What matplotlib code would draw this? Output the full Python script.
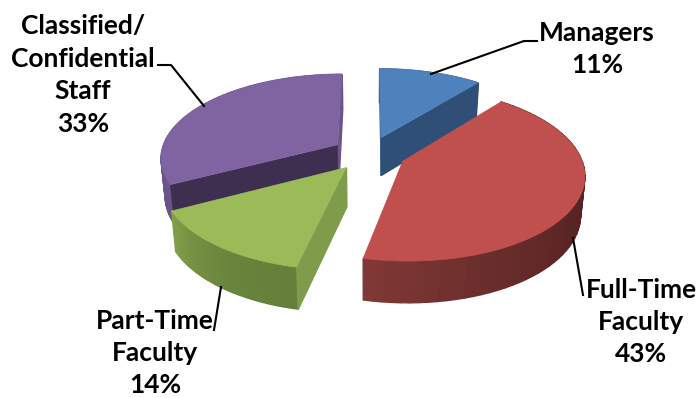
import numpy as np
import matplotlib
matplotlib.use('Agg')
import matplotlib.pyplot as plt
from matplotlib.collections import PolyCollection
from matplotlib.colors import to_rgb
from matplotlib.patches import Polygon

labels = ['Managers', 'Full-Time\nFaculty', 'Part-Time\nFaculty', 'Classified/\nConfidential\nStaff']
values = [11, 43, 14, 33]
top_colors = ['#4f81bd', '#c0504d', '#9bbb59', '#8064a2']
cut_colors = ['#2f4f77', '#4e2120', '#7f9c4b', '#3e2e50']
# rim shading, from the clockwise start of the slice to its end
rim_start = ['#3f6697', '#4a1e1d', '#64803a', '#6b5489']
rim_end = ['#3f6697', '#803836', '#82a04a', '#6b5489']

# camera settings of the pie, in pixels
cx, cy = 369, 153.5
rx, ry = 177, 83
persp = 0.145
explode = 0.209
depth = 38


def project(x, y):
    w = 1 + persp * y
    return cx + rx * x / w, cy - ry * y / w


def drop(px, py, y):
    # bottom edge of the pie wall under a projected point
    return cx + (px - cx) * 0.98, py + depth * (1 - 0.09 * y)


def wall(ax, x, y, colors):
    px, py = project(x, y)
    bx, by = drop(px, py, y)
    quads = []
    for i in range(len(px) - 1):
        quads.append([(px[i], py[i]), (px[i + 1], py[i + 1]), (bx[i + 1], by[i + 1]), (bx[i], by[i])])
    ax.add_collection(PolyCollection(quads, facecolors=colors, edgecolors=colors, linewidths=1.0))


fig = plt.figure(figsize=(6.96, 3.98), dpi=100)
ax = fig.add_axes([0, 0, 1, 1])
ax.set_xlim(0, 696)
ax.set_ylim(398, 0)
ax.axis('off')

fracs = np.array(values) / sum(values) * 2 * np.pi
ends = np.cumsum(fracs)
starts = ends - fracs

# back slices first so the front ones cover their cut faces
for i in [0, 3, 1, 2]:
    mid = (starts[i] + ends[i]) / 2
    ox, oy = explode * np.sin(mid), explode * np.cos(mid)
    t = np.linspace(starts[i], ends[i], 60)
    x = ox + np.sin(t)
    y = oy + np.cos(t)

    # outer rim, darkest part stays dark until the front of the pie
    c0, c1 = np.array(to_rgb(rim_start[i])), np.array(to_rgb(rim_end[i]))
    shades = [tuple(c0 + (c1 - c0) * (k / 58) ** 2) for k in range(59)]
    wall(ax, x, y, shades)

    # cut faces along the radii, only the ones turned towards the viewer
    for edge, side in [(0, -1), (-1, 1)]:
        s = side * np.sin(t[edge])
        if abs(s) < 1e-9:
            # radius pointing straight back, seen as a thin lighter strip
            wall(ax, np.array([ox, x[edge]]), np.array([oy, y[edge]]), [rim_end[i]])
        elif s > 0:
            wall(ax, np.array([ox, x[edge]]), np.array([oy, y[edge]]), [cut_colors[i]])

    # top face
    px, py = project(np.r_[ox, x], np.r_[oy, y])
    ax.add_patch(Polygon(np.c_[px, py], closed=True, facecolor=top_colors[i], edgecolor=top_colors[i], linewidth=0.5))

# leader lines
ax.plot([431, 524, 537], [74, 41, 41], color='black', lw=1.5)
ax.plot([204, 171, 158], [106, 65, 65], color='black', lw=1.5)
ax.plot([221, 214], [287, 330], color='black', lw=1.5)
ax.plot([573, 583], [238, 295], color='black', lw=1.5)

# data labels
spots = [(597, 49), (641, 322), (155, 353), (83, 75)]
for name, val, (tx, ty) in zip(labels, values, spots):
    ax.text(tx, ty, name + '\n' + str(val) + '%', ha='center', va='center', family='Lato', weight='bold',
            fontsize=19, linespacing=1.42, color='black')

fig.savefig('out.png', dpi=100)
